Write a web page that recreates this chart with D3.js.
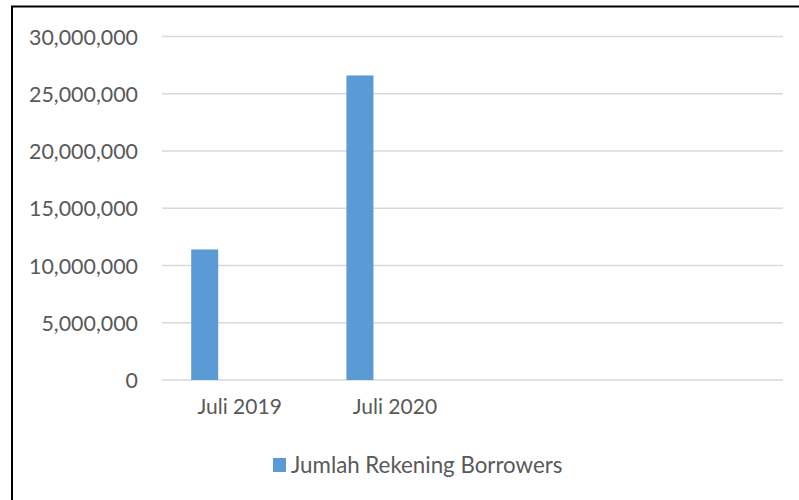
<!DOCTYPE html>
<html>
<head>
<meta charset="utf-8">
<script src="https://cdn.jsdelivr.net/npm/d3@7"></script>
<style>
  html, body { margin: 0; padding: 0; background: #fff; }
  svg { display: block; }
  text { font-family: Lato, "Open Sans", sans-serif; fill: #595959; }
</style>
</head>
<body>
<svg id="chart" width="799" height="500"></svg>
<script>
const categories = ["Juli 2019", "Juli 2020", "", " "];
const seriesName = "Jumlah Rekening Borrowers";
const values = [11400000, 26600000, null, null];
const yTicks = [0, 5000000, 10000000, 15000000, 20000000, 25000000, 30000000];

const svg = d3.select("#chart");
const W = 799, H = 500;
svg.append("rect").attr("width", W).attr("height", H).attr("fill", "#fff");

// outer border (chart area frame)
svg.append("rect")
  .attr("x", 12).attr("y", 6.5)
  .attr("width", W + 20).attr("height", H + 20)
  .attr("fill", "none").attr("stroke", "#000").attr("stroke-width", 2);

const plot = { left: 162, right: 783, top: 36.5, bottom: 380 };

const x = d3.scaleBand().domain(categories).range([plot.left, plot.right]).paddingInner(0).paddingOuter(0);
const y = d3.scaleLinear().domain([0, 30000000]).range([plot.bottom, plot.top]);

// gridlines
svg.append("g").selectAll("line").data(yTicks).join("line")
  .attr("x1", plot.left).attr("x2", plot.right)
  .attr("y1", d => y(d)).attr("y2", d => y(d))
  .attr("stroke", "#d9d9d9").attr("stroke-width", 1.5);

// y axis labels
const fmt = d3.format(",");
const yAxis = d3.axisLeft(y).tickValues(yTicks).tickFormat(d => fmt(d)).tickSize(0).tickPadding(0);
const gy = svg.append("g").attr("transform", "translate(138,0)").call(yAxis);
gy.select(".domain").remove();
gy.selectAll("text").attr("font-size", 21.4).attr("fill", "#595959")
  .style("font-family", "Lato, 'Open Sans', sans-serif").attr("dy", "0.36em");

// x axis labels
const xAxis = d3.axisBottom(x).tickSize(0).tickPadding(0);
const gx = svg.append("g").attr("transform", "translate(0,402)").call(xAxis);
gx.select(".domain").remove();
gx.selectAll("text").attr("font-size", 21).attr("fill", "#595959")
  .style("font-family", "Lato, 'Open Sans', sans-serif").attr("dy", "0.55em");

// bars
const barOffset = 0.188, barWidth = 0.174;
svg.append("g").selectAll("rect")
  .data(categories.map((c, i) => ({ c, v: values[i] })).filter(d => d.v != null))
  .join("rect")
  .attr("x", d => x(d.c) + x.bandwidth() * barOffset)
  .attr("width", x.bandwidth() * barWidth)
  .attr("y", d => y(d.v))
  .attr("height", d => y(0) - y(d.v))
  .attr("fill", "#5b9bd5");

// legend
const lg = svg.append("g").attr("transform", "translate(273,458)");
lg.append("rect").attr("width", 13).attr("height", 14).attr("fill", "#5b9bd5");
lg.append("text").attr("x", 18).attr("y", 7).attr("dy", "0.36em")
  .attr("font-size", 22.3).text(seriesName);
</script>
</body>
</html>
